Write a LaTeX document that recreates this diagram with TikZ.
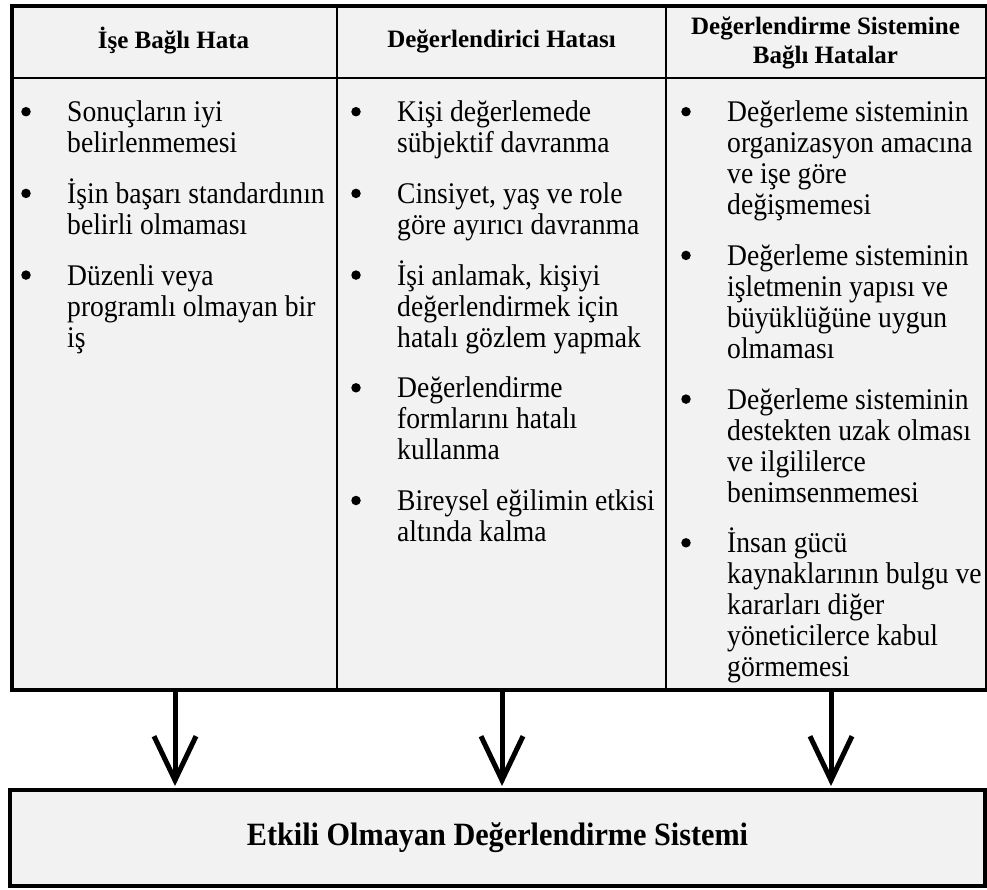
\documentclass[tikz,border=0pt]{standalone}
\usepackage{fontspec}
\setmainfont{Liberation Serif}
% slightly condensed serif faces for the list text and the result box
\newfontfamily\listface[FakeStretch=0.92]{Liberation Serif}
\newfontfamily\resultface[FakeStretch=0.93]{Liberation Serif}
\usetikzlibrary{arrows.meta}
\definecolor{panel}{HTML}{F2F2F2}
\begin{document}
\begin{tikzpicture}[x=1pt,y=-1pt,
  % multi-line items are anchored at the baseline of their last line
  body/.style={font=\listface\fontsize{30}{31}\selectfont, align=left, anchor=base west, inner sep=0pt},
  dot/.style={circle, fill, inner sep=0pt, minimum size=9.5pt},
  head/.style={font=\fontsize{25}{28.5}\selectfont\bfseries, align=center, inner sep=0pt},
  frame/.style={draw, line width=4pt, fill=panel, inner sep=0pt, minimum width=975pt},
  rule/.style={line width=2pt},
  flow/.style={line width=5pt, shorten >=2pt,
    -{Straight Barb[length=44pt,width=42pt,line width=5pt]}}
]
\useasboundingbox (0,0) rectangle (987,890);

% table frame and bottom result box
\node[frame, minimum height=683.5pt, anchor=north west] (tbl) at (10,4.5) {};
\node[frame, minimum height=96pt,
      font=\resultface\fontsize{32.5}{36}\selectfont\bfseries] (goal) at (497.5,838)
      {Etkili Olmayan Değerlendirme Sistemi};

% inner rules of the table
\coordinate (hdr) at (10,78);
\coordinate (c1) at (337,0);
\coordinate (c2) at (666,0);
\draw[rule] (hdr) -- (hdr -| tbl.east);
\draw[rule] (c1 |- tbl.north) -- (c1 |- tbl.south);
\draw[rule] (c2 |- tbl.north) -- (c2 |- tbl.south);

% column headers
\node[head] (h1) at (173.5,41) {İşe Bağlı Hata};
\node[head] (h2) at (501.5,41) {Değerlendirici Hatası};
\node[head] (h3) at (825.5,43) {Değerlendirme Sistemine\\Bağlı Hatalar};

% column 1
\node[dot] (b11) at (26,111.7) {};
\node[body] (i11) at (67,152.7) {Sonuçların iyi\\belirlenmemesi};
\node[dot] (b12) at (26,193.4) {};
\node[body] (i12) at (67,234.4) {İşin başarı standardının\\belirli olmaması};
\node[dot] (b13) at (26,275.1) {};
\node[body] (i13) at (67,347.1) {Düzenli veya\\programlı olmayan bir\\iş};

% column 2
\node[dot] (b21) at (356,111.7) {};
\node[body] (i21) at (397,152.7) {Kişi değerlemede\\sübjektif davranma};
\node[dot] (b22) at (356,193.4) {};
\node[body] (i22) at (397,234.4) {Cinsiyet, yaş ve role\\göre ayırıcı davranma};
\node[dot] (b23) at (356,275.1) {};
\node[body] (i23) at (397,347.1) {İşi anlamak, kişiyi\\değerlendirmek için\\hatalı gözlem yapmak};
\node[dot] (b24) at (356,387.8) {};
\node[body] (i24) at (397,459.8) {Değerlendirme\\formlarını hatalı\\kullanma};
\node[dot] (b25) at (356,500.5) {};
\node[body] (i25) at (397,541.5) {Bireysel eğilimin etkisi\\altında kalma};

% column 3
\node[dot] (b31) at (686,111.7) {};
\node[body] (i31) at (727,214.7) {Değerleme sisteminin\\organizasyon amacına\\ve işe göre\\değişmemesi};
\node[dot] (b32) at (686,255.4) {};
\node[body] (i32) at (727,358.4) {Değerleme sisteminin\\işletmenin yapısı ve\\büyüklüğüne uygun\\olmaması};
\node[dot] (b33) at (686,399.1) {};
\node[body] (i33) at (727,502.1) {Değerleme sisteminin\\destekten uzak olması\\ve ilgililerce\\benimsenmemesi};
\node[dot] (b34) at (686,542.8) {};
\node[body] (i34) at (727,676.8) {İnsan gücü\\kaynaklarının bulgu ve\\kararları diğer\\yöneticilerce kabul\\görmemesi};

% arrows from the table down to the result box
\coordinate (k1) at (175,0);
\coordinate (k2) at (502,0);
\coordinate (k3) at (831,0);
\draw[flow] (tbl.south -| k1) -- (goal.north -| k1);
\draw[flow] (tbl.south -| k2) -- (goal.north -| k2);
\draw[flow] (tbl.south -| k3) -- (goal.north -| k3);
\end{tikzpicture}
\end{document}
